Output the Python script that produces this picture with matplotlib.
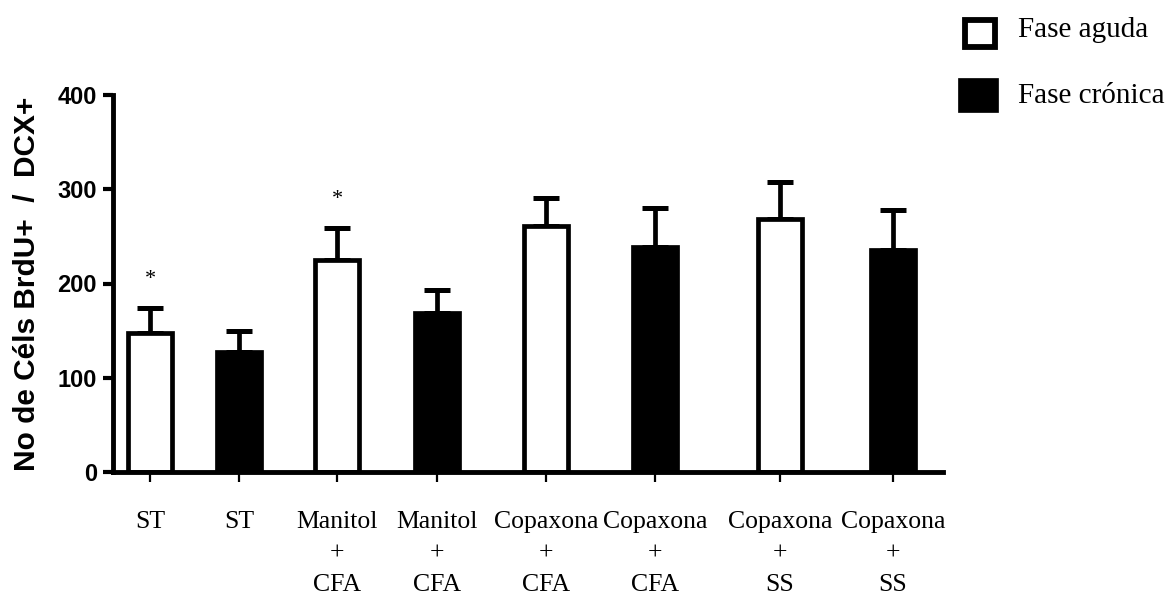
import numpy as np
import matplotlib.pyplot as plt

# data
groups = ["ST", "ST", "Manitol\n+\nCFA", "Manitol\n+\nCFA",
          "Copaxona\n+\nCFA", "Copaxona\n+\nCFA", "Copaxona\n+\nSS", "Copaxona\n+\nSS"]
phase = ["aguda", "crónica", "aguda", "crónica", "aguda", "crónica", "aguda", "crónica"]
means = [148, 127, 225, 169, 261, 239, 268, 236]
sems = [26, 23, 34, 24, 30, 41, 40, 42]
stars = ["*", "", "*", "", "", "", "", ""]

# layout (bar centres as in the original, slightly uneven)
xpos = [150, 239, 337, 437, 546, 655, 780, 893]
bar_w = 44

fig = plt.figure(figsize=(11.67, 5.95), dpi=100)
ax = fig.add_axes([113 / 1167, 1 - 472 / 595, (943 - 113) / 1167, (472 - 95) / 595])

colors = ["white" if p == "aguda" else "black" for p in phase]
ax.errorbar(xpos, means, yerr=[np.zeros(len(means)), sems], fmt="none",
            ecolor="black", elinewidth=3.4, capsize=9.5, capthick=3.6, zorder=1)
ax.bar(xpos, means, width=bar_w, color=colors, edgecolor="black",
       linewidth=3.4, zorder=2)

for x, m, s, st in zip(xpos, means, sems, stars):
    if st:
        ax.text(x, m + s + 20, st, ha="center", va="bottom",
                fontsize=16, family="Liberation Serif")

ax.set_xlim(113, 943)
ax.set_ylim(0, 400)
ax.set_yticks([0, 100, 200, 300, 400])
ax.set_xticks(xpos)
ax.set_xticklabels(groups, family="Liberation Serif", fontsize=18.5, linespacing=1.55, va="top")
ax.tick_params(axis="x", length=7, width=1.6, pad=21)
ax.tick_params(axis="y", length=7.5, width=3, pad=4)
for lab in ax.get_yticklabels():
    lab.set_fontweight("bold")
    lab.set_family("Liberation Sans")
    lab.set_fontsize(17)

for side in ["top", "right"]:
    ax.spines[side].set_visible(False)
for side in ["left", "bottom"]:
    ax.spines[side].set_linewidth(3.5)

ax.set_ylabel("No de Céls BrdU+  /  DCX+", fontsize=21.5, fontweight="bold",
              family="Liberation Sans", labelpad=12)

# legend drawn by hand in figure coords
fig.patches.append(plt.Rectangle((965 / 1167, 1 - 47 / 595), 30 / 1167, 27 / 595,
                                 transform=fig.transFigure, facecolor="white",
                                 edgecolor="black", linewidth=4.2))
fig.patches.append(plt.Rectangle((958 / 1167, 1 - 112 / 595), 40 / 1167, 34 / 595,
                                 transform=fig.transFigure, facecolor="black",
                                 edgecolor="black", linewidth=0.5))
fig.text(1018 / 1167, 1 - 30 / 595, "Fase aguda", family="Liberation Serif",
         fontsize=21, va="center")
fig.text(1018 / 1167, 1 - 96 / 595, "Fase crónica", family="Liberation Serif",
         fontsize=21, va="center")

fig.savefig("out.png", dpi=100)
